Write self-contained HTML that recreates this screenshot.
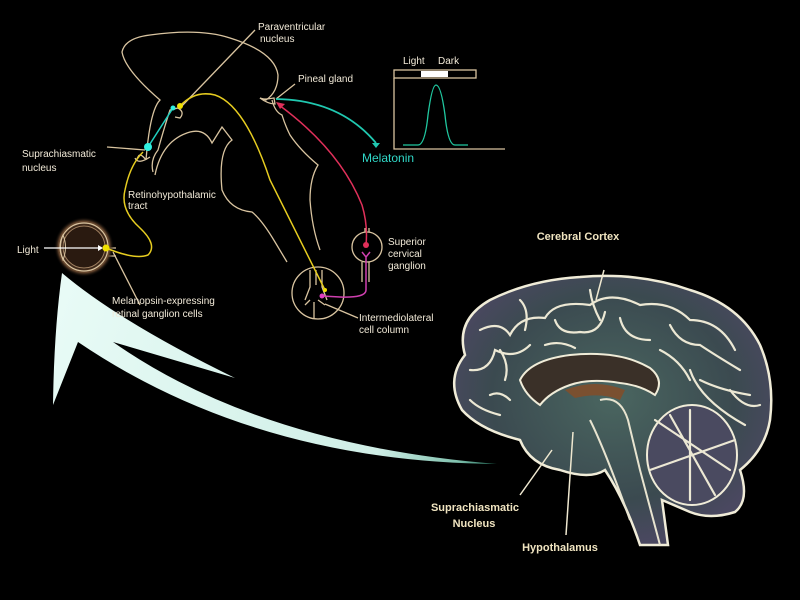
<!DOCTYPE html>
<html><head><meta charset="utf-8"><style>
html,body{margin:0;padding:0;background:#000;width:800px;height:600px;overflow:hidden}
svg{display:block}
text{font-family:"Liberation Sans",sans-serif}
</style></head><body>
<svg width="800" height="600" viewBox="0 0 800 600" xmlns="http://www.w3.org/2000/svg">
<defs>
<linearGradient id="ag" gradientUnits="userSpaceOnUse" x1="60" y1="300" x2="497" y2="464">
<stop offset="0" stop-color="#e8fbf6"/><stop offset="0.75" stop-color="#cfeee6"/><stop offset="0.92" stop-color="#7fc0ad"/><stop offset="1" stop-color="#1d6a55"/>
</linearGradient>
<radialGradient id="eye" cx="0.5" cy="0.5" r="0.5">
<stop offset="0.7" stop-color="#2a1a10"/><stop offset="0.85" stop-color="#6b4a30"/><stop offset="1" stop-color="#000" stop-opacity="0"/>
</radialGradient>
<radialGradient id="bg" cx="0.5" cy="0.45" r="0.55">
<stop offset="0" stop-color="#4a6660"/><stop offset="0.7" stop-color="#3b4a50"/><stop offset="1" stop-color="#4a4860"/>
</radialGradient>
</defs>
<!-- big arrow -->
<path d="M62,273 Q120,322 235,378 L113,342 Q260,445 497,464 Q255,462 78,342 L53,405 Q54,330 62,273 Z" fill="url(#ag)"/>
<!-- diagram outlines -->
<g fill="none" stroke="#d9c4a0" stroke-width="1.3">
<path d="M146,160 Q150,110 160,100 Q125,70 122,52 Q125,38 150,35 Q200,28 230,38 Q275,52 278,75 Q278,92 266,100 L260,98"/>
<path d="M146,160 Q140,152 138,157 Q135,162 140,155 M135,158 Q138,165 150,157"/>
<path d="M153,172 Q150,160 158,150 Q165,125 170,110 L178,108 Q185,112 180,118 L175,117"/>
<path d="M155,175 Q162,140 190,132 Q205,128 212,143 L222,127 L232,140 Q218,150 222,190 Q230,210 252,212 Q262,220 275,242 L287,262"/>
<path d="M272,100 Q275,112 282,115 Q285,125 290,135 Q300,150 318,165 Q310,178 310,200 Q312,228 320,250"/>
<path d="M260,98 Q262,100 274,98 L275,104 Q268,104 260,98 Z"/>
<circle cx="318" cy="293" r="26"/>
<path d="M310,270 L310,287 L305,300 M316,270 L316,285 M322,270 L322,287 L327,300 M305,305 L310,300 M325,305 L318,300 M314,318 L314,302"/>
<circle cx="367" cy="247" r="15"/>
<path d="M362,262 L362,282 M369,262 L369,282 M365,228 L365,232 M369,228 L369,232"/>
<path d="M107,147 L145,150"/>
<path d="M180,108 L255,30"/>
<path d="M276,99 L295,84"/>
<path d="M113,252 L140,305"/>
<path d="M325,304 L358,318"/>
<path d="M116,248 L104,248 L102,256 L116,256" />
</g>
<!-- eye -->
<circle cx="84" cy="247" r="30" fill="url(#eye)"/>
<circle cx="84" cy="247" r="24" fill="none" stroke="#d9c4a0" stroke-width="1.2"/>
<circle cx="84" cy="247" r="21" fill="none" stroke="#a08060" stroke-width="1"/>
<path d="M63,235 Q58,247 63,260 Q68,247 63,235 Z" fill="none" stroke="#d9c4a0"/>
<path d="M44,248 L98,248" stroke="#fff" stroke-width="1.3"/>
<path d="M98,245 L103,248 L98,251 Z" fill="#fff"/>
<!-- yellow -->
<g fill="none" stroke="#e6cc20" stroke-width="1.5">
<path d="M106,248 Q135,260 148,255 Q158,245 140,228 Q120,210 125,190 Q130,165 143,152"/>
<path d="M180,106 Q195,90 215,95 Q245,105 270,180 Q300,240 325,290"/>
</g>
<circle cx="106" cy="248" r="3.5" fill="#f0e000"/>
<circle cx="180" cy="106" r="3" fill="#f0e000"/>
<circle cx="325" cy="290" r="2" fill="#f0e000"/>
<!-- cyan -->
<path d="M148,147 L173,108" stroke="#20d0c0" stroke-width="1.5"/>
<circle cx="148" cy="147" r="4" fill="#30f0e0"/>
<circle cx="173" cy="108" r="2.5" fill="#30f0e0"/>
<path d="M276,99 Q340,100 376,143" fill="none" stroke="#20c8b0" stroke-width="1.8"/>
<path d="M372,143 L376,148 L380,143 Z" fill="#20c8b0"/>
<!-- red/pink -->
<path d="M279,105 Q340,150 362,205 Q368,225 366,245" fill="none" stroke="#e0305a" stroke-width="1.5"/>
<path d="M276,102 L285,104 L280,109 Z" fill="#e0305a"/>
<circle cx="366" cy="245" r="3" fill="#e0305a"/>
<path d="M362,252 L366,257 L370,252 M366,257 L366,290 Q366,298 340,297 L322,296" fill="none" stroke="#d040b0" stroke-width="1.5"/>
<circle cx="322" cy="296" r="2.5" fill="#e040c0"/>
<!-- graph -->
<rect x="394" y="70" width="82" height="8" fill="#000" stroke="#d9c4a0" stroke-width="1.3"/>
<rect x="421" y="71" width="27" height="6" fill="#fff"/>
<path d="M394,78 L394,149 L505,149" fill="none" stroke="#d9c4a0" stroke-width="1.3"/>
<path d="M403,145 L418,145 Q425,145 428,115 Q432,85 436,85 Q441,85 445,115 Q448,145 455,145 L468,145" fill="none" stroke="#20c8a0" stroke-width="1.3"/>
<g fill="#f2ead8" font-size="10">
<text x="403" y="64">Light</text><text x="438" y="64">Dark</text>
<text x="258" y="30">Paraventricular</text><text x="260" y="42">nucleus</text>
<text x="298" y="82">Pineal gland</text>
<text x="22" y="157">Suprachiasmatic</text><text x="22" y="171">nucleus</text>
<text x="128" y="198">Retinohypothalamic</text><text x="128" y="209">tract</text>
<text x="17" y="253">Light</text>
<text x="112" y="304">Melanopsin-expressing</text><text x="112" y="317">retinal ganglion cells</text>
<text x="388" y="245">Superior</text><text x="388" y="257">cervical</text><text x="388" y="269">ganglion</text>
<text x="359" y="321">Intermediolateral</text><text x="359" y="333">cell column</text>
</g>
<text x="362" y="162" fill="#30d8c8" font-size="12">Melatonin</text>
<!-- brain -->
<path d="M465,355 Q455,320 490,300 Q530,280 580,277 Q640,272 690,290 Q740,305 760,345 Q775,380 770,420 Q765,450 740,470 Q750,500 735,512 Q710,520 690,512 L662,500 L668,545 L640,545 Q625,500 605,470 Q590,480 560,470 Q530,465 520,440 Q480,430 462,410 Q445,380 465,355 Z" fill="url(#bg)" stroke="#f0ecd8" stroke-width="2.5"/>
<path d="M520,380 Q530,360 570,355 Q620,350 650,368 Q665,380 655,395 Q640,385 620,383 Q590,378 570,385 Q550,392 540,405 Q525,395 520,380 Z" fill="#3a3028" stroke="#f0ecd8" stroke-width="2"/>
<path d="M565,390 Q595,378 625,390 L620,400 Q600,392 575,398 Z" fill="#7a5030"/>
<ellipse cx="692" cy="455" rx="45" ry="50" fill="#4a4a60" stroke="#f0ecd8" stroke-width="2"/>
<path d="M600,400 Q620,395 628,420 L640,470 L660,545 M590,420 Q605,450 630,520" fill="none" stroke="#e8e4d0" stroke-width="2"/>
<g fill="none" stroke="#ece8d4" stroke-width="2.2" stroke-linecap="round">
<path d="M480,330 Q500,320 510,335 Q520,315 545,318 Q555,300 590,305 Q610,290 640,305 Q670,300 690,320 Q720,320 735,350"/>
<path d="M470,370 Q490,372 495,350 Q515,360 530,345 M555,320 Q560,335 580,332 Q600,335 605,312 M620,318 Q625,340 650,340 M670,325 Q680,345 700,345 Q715,355 740,370"/>
<path d="M490,395 Q500,390 510,400 M470,400 Q480,410 500,415 M700,380 Q720,390 750,395 M690,370 Q700,400 745,425 M590,290 Q592,305 600,320 M520,300 Q530,310 525,330"/>
<path d="M655,420 L730,470 M690,410 L690,500 M650,470 L735,440 M670,415 L715,495"/>
<path d="M500,350 Q510,365 505,380 M545,345 Q560,340 575,348 M660,350 Q680,360 690,380 M730,390 Q745,410 760,405"/>
</g>
<path d="M604,270 L596,300 M552,450 L520,495 M573,432 L566,535" stroke="#efe8d0" stroke-width="1.5"/>
<g fill="#f0e4c0" font-size="11" font-weight="bold" text-anchor="middle">
<text x="578" y="240">Cerebral Cortex</text>
<text x="475" y="511">Suprachiasmatic</text><text x="474" y="527">Nucleus</text>
<text x="560" y="551">Hypothalamus</text>
</g>
</svg>
</body></html>
